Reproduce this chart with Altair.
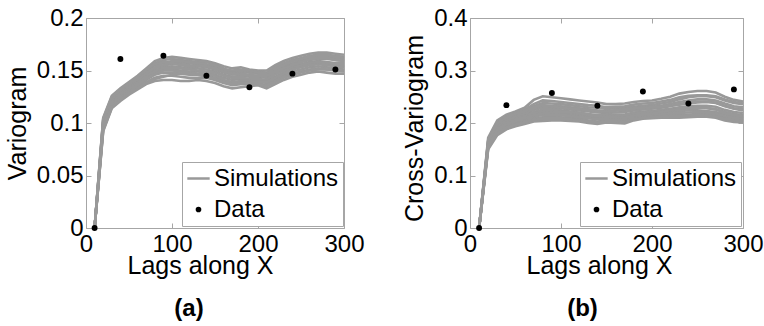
import altair as alt
import pandas as pd

# Lag distances (simulation curves) and lags where the data variogram is known
LAGS = list(range(10, 301, 10))
DATA_LAGS = [10, 40, 90, 140, 190, 240, 290]

# Experimental (data) variogram values
VARIO_DATA = [0, 0.161, 0.164, 0.145, 0.134, 0.147, 0.151]
CROSS_DATA = [0, 0.234, 0.257, 0.233, 0.260, 0.237, 0.264]

# Variograms of the simulated realizations (one list per realization, on LAGS)
VARIO_SIMS = [
    [0, .105, .126, .133, .139, .145, .152, .159, .162, .163, .162, .161, .160, .159, .157, .154, .152, .153, .151, .150, .150, .155, .159, .162, .164, .166, .167, .167, .166, .165],
    [0, .092, .114, .121, .127, .132, .137, .140, .141, .141, .140, .140, .141, .140, .138, .135, .133, .134, .135, .136, .133, .137, .141, .144, .146, .148, .149, .148, .147, .147],
    [0, .099, .120, .127, .133, .139, .145, .150, .153, .154, .153, .152, .152, .151, .149, .146, .144, .145, .144, .144, .143, .147, .151, .154, .156, .158, .159, .158, .157, .157],
    [0, .101, .122, .130, .136, .142, .149, .155, .158, .158, .157, .157, .156, .155, .153, .150, .148, .149, .148, .147, .146, .150, .154, .157, .160, .162, .163, .163, .162, .161],
    [0, .095, .116, .124, .130, .135, .141, .146, .148, .148, .147, .146, .146, .145, .143, .140, .138, .139, .139, .140, .138, .142, .146, .149, .151, .153, .154, .153, .152, .151],
    [0, .103, .124, .131, .137, .143, .150, .157, .160, .161, .160, .159, .158, .158, .156, .152, .149, .150, .149, .149, .148, .153, .157, .160, .162, .164, .165, .165, .164, .163],
    [0, .097, .118, .125, .131, .137, .143, .148, .151, .151, .150, .149, .149, .148, .146, .143, .141, .142, .141, .141, .140, .144, .148, .152, .154, .156, .157, .156, .155, .154],
    [0, .100, .121, .128, .134, .140, .146, .152, .155, .156, .156, .155, .154, .153, .151, .148, .146, .147, .146, .145, .144, .148, .153, .156, .158, .160, .161, .161, .160, .159],
    [0, .094, .115, .123, .129, .134, .139, .143, .145, .145, .144, .143, .143, .143, .141, .138, .136, .137, .137, .138, .136, .140, .144, .147, .149, .151, .152, .151, .150, .149],
    [0, .102, .123, .131, .137, .141, .147, .153, .157, .159, .159, .158, .157, .156, .155, .151, .150, .151, .150, .148, .147, .151, .155, .159, .161, .163, .164, .164, .163, .162],
    [0, .098, .119, .126, .132, .138, .144, .149, .152, .153, .152, .151, .150, .149, .148, .145, .143, .143, .142, .142, .141, .146, .150, .153, .155, .157, .158, .157, .156, .156],
    [0, .096, .117, .124, .130, .136, .142, .147, .150, .150, .149, .148, .147, .147, .145, .141, .139, .140, .140, .139, .139, .143, .147, .151, .153, .155, .156, .155, .154, .153],
    [0, .104, .125, .132, .138, .144, .151, .156, .158, .157, .155, .154, .155, .154, .152, .149, .147, .146, .145, .145, .145, .149, .152, .155, .158, .161, .162, .162, .160, .159],
    [0, .093, .115, .122, .128, .133, .138, .142, .144, .146, .147, .147, .146, .144, .142, .139, .137, .138, .138, .137, .135, .139, .143, .146, .148, .150, .151, .151, .151, .150],
]

CROSS_SIMS = [
    [0, .172, .205, .216, .222, .229, .244, .251, .249, .247, .245, .243, .241, .239, .236, .236, .237, .240, .242, .243, .246, .250, .256, .259, .261, .261, .258, .250, .244, .241],
    [0, .150, .177, .188, .194, .198, .203, .204, .205, .205, .204, .203, .200, .198, .201, .200, .199, .205, .208, .209, .210, .210, .210, .211, .212, .212, .210, .205, .202, .201],
    [0, .165, .198, .209, .216, .222, .232, .238, .237, .236, .234, .232, .230, .229, .227, .228, .229, .231, .233, .234, .237, .240, .245, .249, .251, .251, .249, .243, .238, .236],
    [0, .158, .188, .198, .205, .210, .216, .219, .219, .218, .216, .214, .212, .210, .211, .212, .211, .215, .218, .219, .220, .221, .223, .224, .224, .223, .221, .216, .213, .211],
    [0, .162, .193, .204, .211, .217, .225, .229, .229, .228, .226, .224, .222, .220, .219, .220, .221, .224, .226, .227, .229, .232, .236, .239, .241, .241, .239, .233, .228, .226],
    [0, .154, .183, .193, .200, .204, .209, .211, .212, .211, .210, .208, .205, .203, .205, .205, .204, .209, .212, .213, .214, .215, .215, .216, .217, .217, .215, .210, .207, .205],
    [0, .168, .201, .212, .219, .225, .236, .243, .242, .240, .238, .236, .234, .233, .230, .231, .232, .235, .237, .238, .241, .244, .249, .252, .253, .253, .251, .245, .240, .237],
    [0, .160, .190, .201, .208, .214, .221, .225, .225, .224, .222, .220, .217, .215, .215, .216, .216, .220, .222, .223, .225, .227, .230, .232, .233, .233, .231, .225, .221, .219],
    [0, .156, .186, .196, .203, .207, .213, .215, .216, .215, .213, .211, .209, .207, .208, .208, .207, .212, .215, .216, .217, .218, .219, .220, .221, .220, .218, .213, .210, .208],
    [0, .163, .195, .206, .213, .219, .228, .233, .233, .232, .230, .228, .226, .224, .223, .224, .225, .227, .230, .231, .233, .236, .240, .243, .245, .245, .243, .237, .232, .230],
    [0, .159, .189, .200, .206, .212, .219, .222, .222, .221, .219, .217, .215, .212, .213, .214, .213, .217, .220, .221, .222, .224, .226, .228, .229, .228, .226, .221, .217, .215],
    [0, .152, .180, .191, .197, .201, .206, .208, .208, .208, .207, .205, .203, .201, .203, .203, .202, .207, .210, .211, .212, .213, .213, .214, .215, .214, .212, .208, .205, .203],
    [0, .166, .199, .210, .217, .223, .230, .234, .232, .229, .227, .226, .225, .223, .222, .224, .226, .228, .229, .230, .231, .233, .235, .237, .239, .240, .238, .232, .227, .224],
    [0, .157, .187, .197, .204, .209, .215, .218, .220, .221, .221, .219, .216, .213, .212, .211, .210, .214, .216, .218, .221, .224, .227, .229, .230, .229, .226, .219, .215, .213],
]

FONT = "Liberation Sans"
SIM_GRAY = "#999999"
FRAME_GRAY = "#a6a6a6"
HEIGHT = 210


def sims_table(sims):
    rows = []
    for k, values in enumerate(sims):
        for lag, v in zip(LAGS, values):
            rows.append({"lag": lag, "value": v, "sim": k, "series": "Simulations"})
    return pd.DataFrame(rows)


def data_table(values):
    return pd.DataFrame({"lag": DATA_LAGS, "value": values, "series": "Data"})


def panel(sims, data, ymax, ystep, fmt, ytitle, tag, width,
          legend_x, xtitle_x, ytitle_y, tag_dx):
    yticks = [round(i * ystep, 3) for i in range(int(round(ymax / ystep)) + 1)]
    x_enc = alt.X(
        "lag:Q",
        scale=alt.Scale(domain=[0, 300], nice=False),
        axis=alt.Axis(
            values=[0, 100, 200, 300], title="Lags along X", ticks=False,
            domain=False, grid=True, gridColor=FRAME_GRAY,
            gridDash=[5, HEIGHT - 10, 5], labelFlush=False,
            labelFont=FONT, labelFontSize=24, labelColor="black",
            labelPadding=4, titleFont=FONT, titleFontSize=25,
            titleFontWeight="normal", titleColor="black", titlePadding=-3,
            titleX=xtitle_x,
        ),
    )
    y_enc = alt.Y(
        "value:Q",
        scale=alt.Scale(domain=[0, ymax], nice=False),
        axis=alt.Axis(
            values=yticks, format=fmt, title=ytitle, ticks=False,
            domain=False, grid=True, gridColor=FRAME_GRAY,
            gridDash=[5, width - 10, 5], labelFont=FONT, labelFontSize=24,
            labelColor="black", labelPadding=3, titleFont=FONT,
            titleFontSize=25, titleFontWeight="normal", titleColor="black",
            titlePadding=6, titleY=ytitle_y,
        ),
    )
    color_scale = alt.Scale(domain=["Simulations", "Data"], range=[SIM_GRAY, "black"])
    is_data = "datum.value === 'Data'"
    legend = alt.Legend(
        title=None, orient="none", legendX=legend_x, legendY=144,
        fillColor="white", strokeColor=FRAME_GRAY, padding=4,
        labelFont=FONT, labelFontSize=24, labelColor="black",
        labelOffset=3, rowPadding=6,
        symbolType={"expr": f"{is_data} ? 'circle' : 'stroke'"},
        symbolSize={"expr": f"{is_data} ? 10 : 500"},
        symbolFillColor={"expr": f"{is_data} ? 'black' : 'transparent'"},
        symbolStrokeColor={"expr": f"{is_data} ? 'transparent' : '{SIM_GRAY}'"},
        symbolStrokeWidth=2.5,
        symbolOpacity=1,
    )
    lines = alt.Chart(sims_table(sims)).mark_line(strokeWidth=2.6).encode(
        x=x_enc, y=y_enc, detail="sim:N",
        color=alt.Color("series:N", scale=color_scale, legend=legend),
    )
    points = alt.Chart(data_table(data)).mark_circle(size=35, opacity=1).encode(
        x=x_enc, y=y_enc,
        color=alt.Color("series:N", scale=color_scale, legend=legend),
    )
    return alt.layer(lines, points).properties(
        width=width, height=HEIGHT,
        title=alt.TitleParams(
            text=tag, orient="bottom", anchor="middle", font=FONT,
            fontSize=24, fontWeight="bold", color="black", dx=tag_dx, offset=19,
        ),
    )


left = panel(VARIO_SIMS, VARIO_DATA, 0.2, 0.05, ".2~f", "Variogram", "(a)",
             258, 96, 114, 105, -26)
right = panel(CROSS_SIMS, CROSS_DATA, 0.4, 0.1, ".1~f", "Cross-Variogram", "(b)",
              273, 110, 129, 110, -24)

chart = (
    alt.hconcat(left, right, spacing=126, bounds="flush")
    .resolve_scale(color="independent")
    .resolve_legend(color="independent")
    .properties(padding={"left": 4, "top": 5, "right": 0, "bottom": 0})
    .configure_view(stroke=FRAME_GRAY, strokeWidth=1)
)

chart.save("out.html", embed_options={"renderer": "svg", "actions": False})
